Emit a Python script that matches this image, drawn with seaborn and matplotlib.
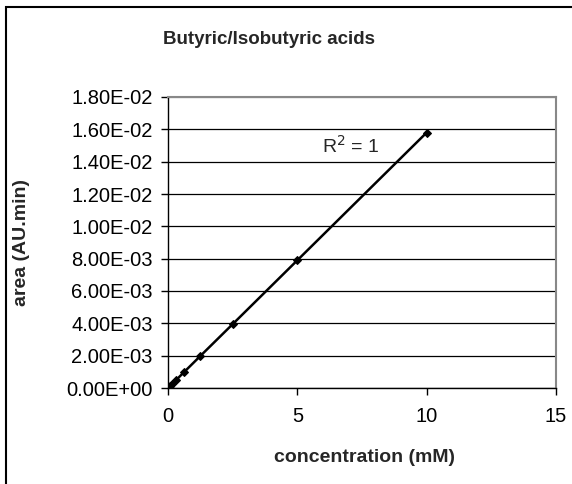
import numpy as np
import pandas as pd
import matplotlib
matplotlib.use("Agg")
import matplotlib.pyplot as plt
import seaborn as sns
from matplotlib.ticker import FuncFormatter
from matplotlib.patches import Rectangle

# calibration data
concentration = [0, 0.078, 0.156, 0.3125, 0.625, 1.25, 2.5, 5, 10]
area = [0, 0.00012, 0.00025, 0.00049, 0.00099, 0.00198, 0.00395, 0.0079, 0.0158]
y_ticks = [0, 0.002, 0.004, 0.006, 0.008, 0.010, 0.012, 0.014, 0.016, 0.018]
x_ticks = [0, 5, 10, 15]

df = pd.DataFrame({"concentration": concentration, "area": area})

sns.set_theme(style="white")
plt.rcParams['font.family'] = ['Liberation Sans', 'DejaVu Sans']

fig = plt.figure(figsize=(5.72, 4.84), dpi=100)
ax = fig.add_axes([168 / 572, 1 - 388 / 484, 388 / 572, 291 / 484])

# outer chart frame
fig.patches.append(Rectangle((6 / 572, -0.1), 1.2, 1 - 7 / 484 + 0.1,
                             transform=fig.transFigure, fill=False,
                             edgecolor='black', linewidth=1.5))

for v in y_ticks:
    ax.axhline(v, color='black' if v < 0.018 else '#888888', linewidth=0.9, zorder=0)

sns.lineplot(data=df, x="concentration", y="area", ax=ax, color='black',
             linewidth=1.8, marker='D', markersize=4.5, markeredgecolor='black')

ax.set_xlim(0, 15)
ax.set_ylim(0, 0.018)
ax.set_xticks(x_ticks)
ax.set_yticks(y_ticks)
ax.yaxis.set_major_formatter(FuncFormatter(lambda v, p: f"{v:.2E}"))
ax.tick_params(axis='both', labelsize=14.5, direction='out', length=5,
               width=1, colors='black', bottom=True, left=True)
ax.tick_params(axis='x', pad=9)
ax.tick_params(axis='y', pad=6)

for side in ['top', 'right']:
    ax.spines[side].set_color('#888888')
    ax.spines[side].set_linewidth(1.5)
for side in ['left', 'bottom']:
    ax.spines[side].set_color('black')
    ax.spines[side].set_linewidth(1.0)

ax.set_xlabel("")
ax.set_ylabel("")
fig.text(364 / 572, 1 - 458 / 484, "concentration (mM)", ha='center', va='center',
         fontsize=14, fontweight='bold')
fig.text(22 / 572, 1 - 242 / 484, "area (AU.min)", ha='center', va='center',
         rotation=90, fontsize=14, fontweight='bold')
fig.text(269 / 572, 1 - 40 / 484, "Butyric/Isobutyric acids", ha='center', va='center',
         fontsize=13.5, fontweight='bold')

ax.text(5.95, 0.01457, r"R$^2$ = 1", fontsize=14, ha='left', va='baseline')

fig.savefig("out.png", dpi=100)
